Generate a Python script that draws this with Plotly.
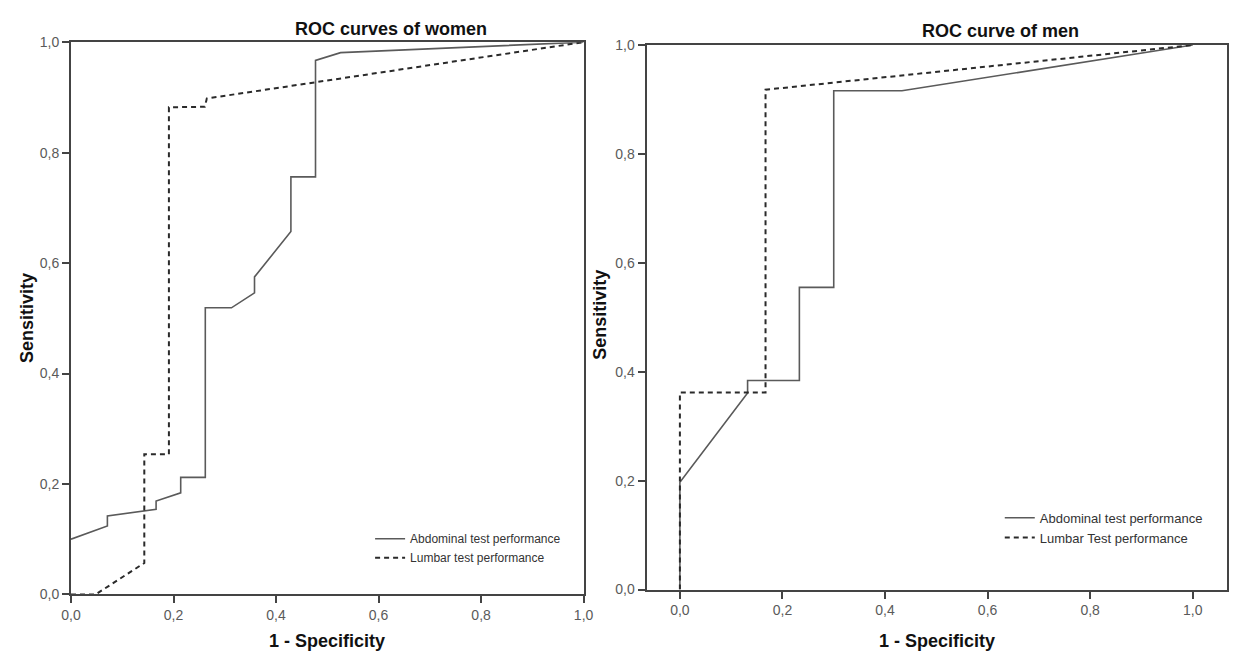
import plotly.graph_objects as go

# ---- Data ----
women_abd_x = [0.0, 0.071, 0.071, 0.166, 0.166, 0.214, 0.214, 0.262, 0.262, 0.313, 0.358, 0.358, 0.429, 0.429, 0.477, 0.477, 0.526, 1.0]
women_abd_y = [0.100, 0.124, 0.142, 0.154, 0.169, 0.184, 0.212, 0.212, 0.519, 0.519, 0.546, 0.575, 0.657, 0.756, 0.756, 0.967, 0.981, 1.0]
women_lum_x = [0.0, 0.048, 0.143, 0.143, 0.191, 0.191, 0.261, 0.265, 1.0]
women_lum_y = [0.0, 0.0, 0.057, 0.254, 0.254, 0.882, 0.883, 0.898, 1.0]

men_abd_x = [0.0, 0.0, 0.132, 0.132, 0.233, 0.233, 0.300, 0.300, 0.433, 1.0]
men_abd_y = [0.0, 0.197, 0.361, 0.384, 0.384, 0.555, 0.555, 0.916, 0.916, 1.0]
men_lum_x = [0.0, 0.0, 0.167, 0.167, 1.0]
men_lum_y = [0.0, 0.362, 0.362, 0.918, 1.0]

titles = ["ROC curves of women", "ROC curve of men"]
x_title = "1 - Specificity"
y_title = "Sensitivity"
women_names = ["Abdominal test performance", "Lumbar test performance"]
men_names = ["Abdominal test performance", "Lumbar Test performance"]

W, H = 1240, 661
FONT = "Liberation Sans, Arial, sans-serif"
SOLID = dict(color="#5a5a5a", width=1.6)
DASH = dict(color="#2a2a2a", width=2, dash="5px,4px")

fig = go.Figure()
fig.add_trace(go.Scatter(x=women_abd_x, y=women_abd_y, mode="lines", line=SOLID,
                         name=women_names[0], xaxis="x", yaxis="y", legend="legend"))
fig.add_trace(go.Scatter(x=women_lum_x, y=women_lum_y, mode="lines", line=DASH,
                         name=women_names[1], xaxis="x", yaxis="y", legend="legend"))
fig.add_trace(go.Scatter(x=men_abd_x, y=men_abd_y, mode="lines", line=SOLID,
                         name=men_names[0], xaxis="x2", yaxis="y2", legend="legend2"))
fig.add_trace(go.Scatter(x=men_lum_x, y=men_lum_y, mode="lines", line=DASH,
                         name=men_names[1], xaxis="x2", yaxis="y2", legend="legend2"))


def px_x(p):
    return p / W


def px_y(p):
    return 1 - p / H


axis_common = dict(showline=True, linecolor="#444444", linewidth=2, mirror=True,
                   showgrid=False, zeroline=False, ticks="outside", ticklen=7,
                   tickwidth=1.5, tickcolor="#444444", tick0=0, dtick=0.2,
                   tickformat=".1f", tickfont=dict(family=FONT, size=14, color="#5a5a5a"))

fig.update_layout(
    width=W, height=H,
    margin=dict(l=0, r=0, t=0, b=0),
    paper_bgcolor="white", plot_bgcolor="white",
    separators=",.",
    font=dict(family=FONT),
    xaxis=dict(domain=[px_x(62), px_x(583)], range=[0, 1], anchor="y", **axis_common),
    yaxis=dict(domain=[px_y(601), px_y(35)], range=[0, 1], anchor="x", **axis_common),
    xaxis2=dict(domain=[px_x(647), px_x(1237)], range=[-0.065, 1.067], anchor="y2", **axis_common),
    yaxis2=dict(domain=[px_y(596), px_y(38)], range=[0, 1], anchor="x2", **axis_common),
    legend=dict(x=px_x(366), y=px_y(529), xanchor="left", yanchor="top",
                bgcolor="rgba(0,0,0,0)", font=dict(family=FONT, size=12, color="#333333"),
                tracegroupgap=0),
    legend2=dict(x=px_x(1006), y=px_y(507), xanchor="left", yanchor="top",
                 bgcolor="rgba(0,0,0,0)", font=dict(family=FONT, size=13, color="#333333"),
                 tracegroupgap=0),
)

bold = dict(family=FONT, size=18, color="#111111")
ann = [
    dict(text="<b>%s</b>" % titles[0], x=px_x(387), y=px_y(22)),
    dict(text="<b>%s</b>" % titles[1], x=px_x(1007), y=px_y(24)),
    dict(text="<b>%s</b>" % x_title, x=px_x(322), y=px_y(649)),
    dict(text="<b>%s</b>" % x_title, x=px_x(942), y=px_y(649)),
    dict(text="<b>%s</b>" % y_title, x=px_x(18), y=px_y(318), textangle=-90),
    dict(text="<b>%s</b>" % y_title, x=px_x(600), y=px_y(314), textangle=-90),
]
for a in ann:
    fig.add_annotation(xref="paper", yref="paper", showarrow=False,
                       xanchor="center", yanchor="middle", font=bold, **a)

fig.write_html("out.html", config={"displayModeBar": False},
               post_script="document.body.style.margin='0';document.body.style.overflow='hidden';")
